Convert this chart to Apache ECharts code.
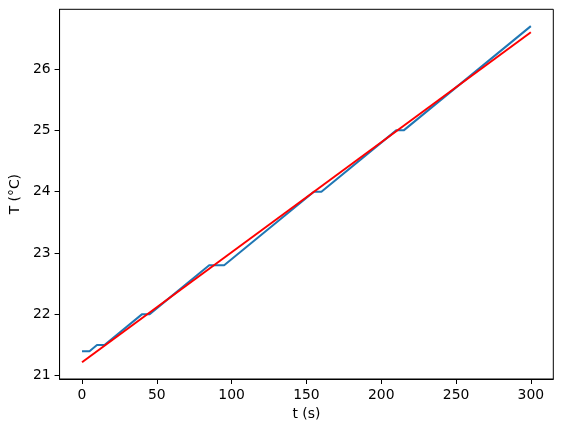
<!DOCTYPE html>
<html><head><meta charset="utf-8">
<script src="https://cdn.jsdelivr.net/npm/echarts@6/dist/echarts.min.js"></script>
<style>html,body{margin:0;padding:0;background:#fff}#c{width:562px;height:432px}</style>
</head><body><div id="c"></div>
<script>
// Measured temperature (blue) corner points
const measuredT = [0, 5, 10, 15, 40, 45, 85, 95, 155, 160, 210, 215, 300];
const measuredV = [21.4, 21.4, 21.5, 21.5, 22.0, 22.0, 22.8, 22.8, 24.0, 24.0, 25.0, 25.0, 26.7];
// Linear fit (red) endpoints
const fitT = [0, 300];
const fitV = [21.22, 26.60];
const xTicks = [0, 50, 100, 150, 200, 250, 300];
const yTicks = [21, 22, 23, 24, 25, 26];

const font = 'DejaVu Sans';
const chart = echarts.init(document.getElementById('c'), null, {renderer: 'canvas'});
chart.setOption({
  animation: false,
  backgroundColor: '#fff',
  grid: {left: 57.5, right: 8.7, top: 9.3, bottom: 53, show: true, borderColor: '#000', borderWidth: 1, backgroundColor: 'transparent'},
  xAxis: {
    type: 'value', min: -15, max: 315,
    name: 't (s)', nameLocation: 'middle', nameGap: 28,
    nameTextStyle: {fontFamily: font, fontSize: 13.9, color: '#000'},
    axisLine: {show: true, onZero: false, lineStyle: {color: '#000', width: 1}},
    axisTick: {show: true, length: 5, customValues: xTicks, lineStyle: {color: '#000'}},
    axisLabel: {customValues: xTicks, margin: 9, fontFamily: font, fontSize: 13.9, color: '#000'},
    splitLine: {show: false}
  },
  yAxis: {
    type: 'value', min: 20.946, max: 26.974,
    name: 'T (°C)', nameLocation: 'middle', nameGap: 31, nameRotate: 90,
    nameTextStyle: {fontFamily: font, fontSize: 13.9, color: '#000'},
    axisLine: {show: true, onZero: false, lineStyle: {color: '#000', width: 1}},
    axisTick: {show: true, length: 5, customValues: yTicks, lineStyle: {color: '#000'}},
    axisLabel: {customValues: yTicks, margin: 9, fontFamily: font, fontSize: 13.9, color: '#000'},
    splitLine: {show: false}
  },
  series: [
    {type: 'line', data: measuredT.map((t, i) => [t, measuredV[i]]), showSymbol: false,
     lineStyle: {color: '#1f77b4', width: 2}, itemStyle: {color: '#1f77b4'}},
    {type: 'line', data: fitT.map((t, i) => [t, fitV[i]]), showSymbol: false,
     lineStyle: {color: '#ff0000', width: 2}, itemStyle: {color: '#ff0000'}}
  ]
});
</script></body></html>
